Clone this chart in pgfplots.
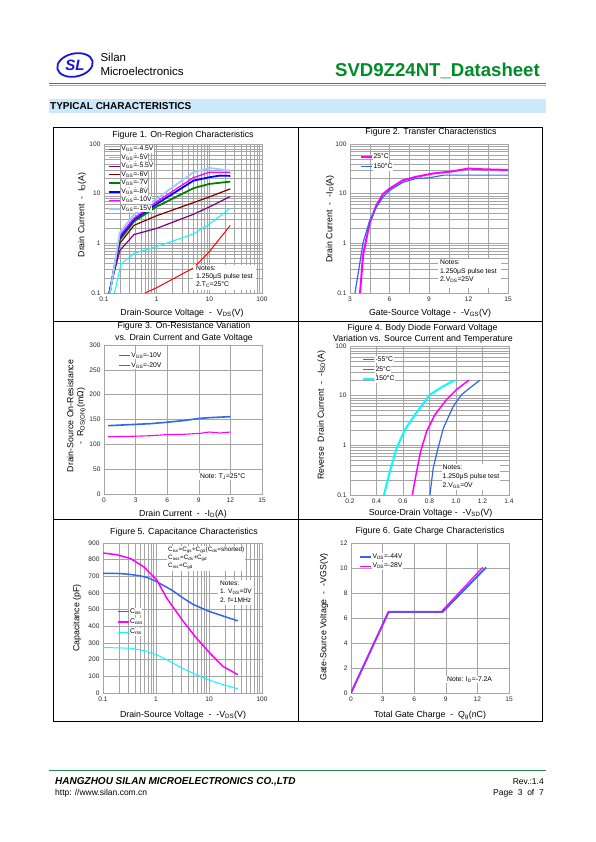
\documentclass[border=0pt]{standalone}
\usepackage{fontspec}
\setmainfont{Liberation Sans}
\usepackage{pgfplots}
\pgfplotsset{compat=1.18}
\newcommand\fs[1]{\fontsize{#1}{#1}\selectfont}
\definecolor{dsblue}{RGB}{51,102,238}
\definecolor{dsmag}{RGB}{255,0,255}
\definecolor{dscyan}{RGB}{0,255,255}
\definecolor{dsgreen}{RGB}{0,128,0}
\definecolor{dsmaroon}{RGB}{128,0,0}
\definecolor{dspurple}{RGB}{128,0,128}
\definecolor{dslblue}{RGB}{153,204,255}
\definecolor{hdgreen}{RGB}{0,140,40}
\definecolor{lineg1}{RGB}{40,140,80}
\definecolor{lineg2}{RGB}{120,195,140}
\definecolor{band}{RGB}{204,232,250}
\definecolor{logoblue}{RGB}{20,20,230}
\definecolor{gridc}{RGB}{165,165,165}
\pgfplotsset{
  legend image code/.code={\draw[#1] (0pt,0pt) -- (11pt,0pt);},
  ds/.style={
    scale only axis, anchor=south west, clip=true,
    axis line style={draw=gridc, line width=0.5pt},
    major grid style={draw=gridc, line width=0.45pt},
    minor grid style={draw=gridc, line width=0.45pt},
    major tick length=0pt, minor tick length=0pt,
    tick label style={font=\fs{6.6}, text=black!85},
    /pgf/number format/assume math mode=true,
    legend cell align=left,
    legend style={draw=none, fill=none, inner sep=0pt, outer sep=0pt, anchor=north west, font=\fs{6.8},
      nodes={inner sep=0.6pt, text height=4.8pt, text depth=1.4pt, fill=white}},
  },
}
\begin{document}
\begin{tikzpicture}[x=1pt,y=1pt]
\fill[white] (0,0) rectangle (595,-842);
\useasboundingbox (0,0) rectangle (595,-842);
% ---------- header ----------
\draw[logoblue, line width=1.8pt, rotate around={12:(75,-65)}] (75,-65) ellipse (18 and 11.5);
\node[logoblue, font=\fs{15}\bfseries\itshape] at (75,-65) {SL};
\node[anchor=west, font=\fs{11.5}] at (97,-57.5) {Silan};
\node[anchor=west, font=\fs{11.5}] at (97,-71.5) {Microelectronics};
\node[anchor=east, font=\fs{18.6}\bfseries, text=hdgreen, inner sep=0pt] at (540,-71) {SVD9Z24NT\_Datasheet};
\draw[lineg1, line width=1.4pt] (49,-83.5) -- (546,-83.5);
\draw[lineg2, line width=1pt] (49,-86) -- (546,-86);
\fill[band] (49,-99) rectangle (546,-113);
\node[anchor=west, font=\fs{10}\bfseries, inner sep=0pt] at (50,-106) {TYPICAL CHARACTERISTICS};
% ---------- frame ----------
\draw[line width=0.9pt] (53,-127) rectangle (542,-721);
\draw[line width=0.9pt] (298,-127) -- (298,-721);
\draw[line width=0.9pt] (53,-321) -- (542,-321);
\draw[line width=0.9pt] (53,-519) -- (542,-519);
% ---------- Figure 1 ----------
\begin{axis}[ds, at={(104pt,-293pt)}, width=158pt, height=149pt,
  xmode=log, ymode=log, xmin=0.1, xmax=100, ymin=0.1, ymax=100,
  xtick={0.1,1,10,100}, xticklabels={0.1,1,10,100},
  ytick={0.1,1,10,100}, yticklabels={0.1,1,10,100}, grid=both,
  legend style={at={(0.025,0.99)}, row sep=1.1pt}]
\addplot[red, line width=1pt] coordinates {(0.6,0.1)(1,0.128)(2,0.19)(5,0.32)(10,0.68)(25,2.3)};
\addlegendentry{V\textsubscript{GS}=-4.5V}
\addplot[dscyan, line width=1pt] coordinates {(0.158,0.1)(0.21,0.38)(0.37,0.63)(1,0.86)(5,1.55)(10,2.45)(25,5.1)};
\addlegendentry{V\textsubscript{GS}=-5V}
\addplot[dspurple, line width=1.2pt] coordinates {(0.124,0.1)(0.2,0.72)(0.37,1.5)(1,2.0)(5,3.85)(10,5.4)(25,8.8)};
\addlegendentry{V\textsubscript{GS}=-5.5V}
\addplot[dsmaroon, line width=1.2pt] coordinates {(0.125,0.1)(0.2,1.0)(0.37,2.3)(1,3.6)(5,6.6)(10,8.6)(25,12.5)};
\addlegendentry{V\textsubscript{GS}=-6V}
\addplot[dsgreen, line width=1.8pt] coordinates {(0.127,0.1)(0.2,1.18)(0.37,2.75)(1,5.5)(5,12.9)(10,15.7)(25,17.5)};
\addlegendentry{V\textsubscript{GS}=-7V}
\addplot[blue, line width=1.8pt] coordinates {(0.128,0.1)(0.2,1.3)(0.37,3.0)(1,6.2)(5,18.3)(10,21.4)(16,23.1)(25,22.8)};
\addlegendentry{V\textsubscript{GS}=-8V}
\addplot[dsmag, line width=1.3pt] coordinates {(0.13,0.1)(0.2,1.45)(0.37,3.2)(1,6.9)(5,21)(10,27)(25,27)};
\addlegendentry{V\textsubscript{GS}=-10V}
\addplot[dslblue, line width=1.8pt] coordinates {(0.13,0.1)(0.2,1.65)(0.37,3.75)(1,7.9)(5,27)(10,33)(25,29)};
\addlegendentry{V\textsubscript{GS}=-15V}
\end{axis}
\fill[white] (193,-265) rectangle (256,-290);
\node[anchor=north west, align=left, font=\fontsize{6.8}{8}\selectfont, inner sep=0pt] at (196,-265.5) {Notes:\\1.250μS pulse test\\2.T\textsubscript{C}=25°C};
\node[font=\fs{8.8}] at (183,-135) {Figure 1. On-Region Characteristics};
\node[font=\fs{8.8}] at (182,-313) {Drain-Source Voltage~~-~~V\textsubscript{DS}(V)};
\node[font=\fs{8.8}, rotate=90] at (82,-215) {Drain Current~~-~~I\textsubscript{D}(A)};
% ---------- Figure 2 ----------
\begin{axis}[ds, at={(350pt,-293pt)}, width=158pt, height=149pt,
  ymode=log, xmin=3, xmax=15, ymin=0.1, ymax=100,
  xtick={3,6,9,12,15}, minor xtick={4.5,7.5,10.5,13.5},
  ytick={0.1,1,10,100}, yticklabels={0.1,1,10,100}, grid=both,
  legend style={at={(0.063,0.94)}, row sep=2.8pt}]
\addplot[dsmag, line width=2pt] coordinates {(3.76,0.1)(4.0,0.6)(4.5,2.6)(5.0,5.8)(5.5,9.8)(6.0,12.6)(7.0,18.5)(8.0,21.8)(9.3,25.5)(10.6,27.7)(12,32)(13,31)(15,30)};
\addlegendentry{25°C}
\addplot[dsblue, line width=1.2pt] coordinates {(3.38,0.1)(4.0,1.05)(4.5,2.9)(5.0,5.3)(5.5,8.5)(6.0,11.6)(7.0,16.8)(8.0,20.2)(9.0,20.8)(10.1,23.6)(15,23.6)};
\addlegendentry{150°C}
\end{axis}
\fill[white] (438,-259) rectangle (501,-288);
\node[anchor=north west, align=left, font=\fontsize{6.8}{8.5}\selectfont, inner sep=0pt] at (440,-260) {Notes:\\1.250μS pulse test\\2.V\textsubscript{DS}=25V};
\node[font=\fs{8.8}] at (431,-132.5) {Figure 2. Transfer Characteristics};
\node[font=\fs{8.8}] at (430,-313) {Gate-Source Voltage~-~~-V\textsubscript{GS}(V)};
\node[font=\fs{8.8}, rotate=90] at (330,-219) {Drain Current~~-~~-I\textsubscript{D}(A)};
% ---------- Figure 3 ----------
\begin{axis}[ds, at={(104pt,-494pt)}, width=158pt, height=149pt,
  xmin=0, xmax=15, ymin=0, ymax=300,
  xtick={0,3,6,9,12,15}, ytick={0,50,100,150,200,250,300}, grid=major,
  legend style={at={(0.089,0.955)}, row sep=2.8pt}]
\addplot[dsblue, line width=1.6pt] coordinates {(0.4,137.6)(3.1,140.3)(4.4,141.6)(5.9,144.3)(7.5,147.7)(9.1,152.3)(10,153.7)(12,155.7)};
\addlegendentry{V\textsubscript{GS}=-10V}
\addplot[dsmag, line width=1.1pt] coordinates {(0.4,115.4)(3.1,116.4)(4.4,117.4)(5.9,119.5)(7.5,120.1)(9.1,122.1)(10,124.8)(11,122.8)(12,124.8)};
\addlegendentry{V\textsubscript{GS}=-20V}
\end{axis}
\node[anchor=west, font=\fs{6.8}, fill=white, inner sep=1pt] at (199,-476.5) {Note: T\textsubscript{J}=25°C};
\node[font=\fs{8.8}] at (184,-326.5) {Figure 3. On-Resistance Variation};
\node[font=\fs{8.8}] at (184,-338) {vs. Drain Current and Gate Voltage};
\node[font=\fs{8.8}] at (183,-514) {Drain Current~~-~~-I\textsubscript{D}(A)};
\node[font=\fs{8.8}, rotate=90, align=center] at (76.5,-416) {Drain-Source On-Resistance\\[1pt]-~~R\textsubscript{DS(ON)}(mΩ)};
% ---------- Figure 4 ----------
\begin{axis}[ds, at={(350pt,-495pt)}, width=159pt, height=149pt,
  ymode=log, xmin=0.2, xmax=1.4, ymin=0.1, ymax=100,
  xtick={0.2,0.4,0.6,0.8,1.0,1.2,1.4}, xticklabels={0.2,0.4,0.6,0.8,1.0,1.2,1.4},
  ytick={0.1,1,10,100}, yticklabels={0.1,1,10,100}, grid=both,
  legend style={at={(0.075,0.933)}, row sep=2.4pt}]
\addplot[dsblue, line width=1.2pt] coordinates {(0.803,0.1)(0.828,0.35)(0.858,0.75)(0.904,2.2)(0.979,6.1)(1.042,10.5)(1.1,14)(1.18,20.5)};
\addlegendentry{-55°C}
\addplot[dsmag, line width=1.5pt] coordinates {(0.67,0.1)(0.703,0.3)(0.733,0.75)(0.778,1.9)(0.841,4.15)(0.929,8.35)(1.004,13.3)(1.097,20.5)};
\addlegendentry{25°C}
\addplot[dscyan, line width=2pt] coordinates {(0.456,0.1)(0.501,0.3)(0.552,0.88)(0.614,2.07)(0.69,4.15)(0.803,10.5)(0.904,15.5)(0.99,20.5)};
\addlegendentry{150°C}
\end{axis}
\node[anchor=north west, align=left, font=\fontsize{6.8}{8.8}\selectfont, fill=white, inner sep=1pt] at (441.5,-464) {Notes:\\1.250μS pulse test\\2.V\textsubscript{GS}=0V};
\node[font=\fs{8.8}] at (422.5,-328) {Figure 4. Body Diode Forward Voltage};
\node[font=\fs{8.8}] at (423,-339) {Variation vs. Source Current and Temperature};
\node[font=\fs{8.8}] at (430.5,-513.5) {Source-Drain Voltage~-~~-V\textsubscript{SD}(V)};
\node[font=\fs{8.8}, rotate=90] at (321.5,-415) {Reverse~~Drain Current~~-~~-I\textsubscript{SD}(A)};
% ---------- Figure 5 ----------
\begin{axis}[ds, at={(103pt,-693pt)}, width=159pt, height=150pt,
  xmode=log, xmin=0.1, xmax=100, ymin=0, ymax=900,
  xtick={0.1,1,10,100}, xticklabels={0.1,1,10,100},
  ytick={0,100,200,300,400,500,600,700,800,900}, grid=both,
  legend style={at={(0.088,0.567)}, row sep=2.8pt}]
\addplot[dsblue, line width=1.5pt] coordinates {(0.1,718)(0.2,717)(0.3,713)(0.5,703)(0.7,692)(1,670)(2,617)(3.3,568)(5,532)(10,490)(20,458)(35,433)};
\addlegendentry{C\textsubscript{iss}}
\addplot[dsmag, line width=1.5pt] coordinates {(0.1,840)(0.18,830)(0.33,807)(0.59,757)(1.04,677)(1.6,568)(3.3,428)(5.8,329)(10.4,239)(18.5,159)(35,110)};
\addlegendentry{C\textsubscript{oss}}
\addplot[dscyan, line width=1pt] coordinates {(0.1,273)(0.33,269)(0.59,255)(1.04,229)(1.86,189)(3.3,145)(5.8,110)(10.4,76)(18.5,50)(35,26)};
\addlegendentry{C\textsubscript{rss}}
\end{axis}
\node[anchor=north west, align=left, font=\fontsize{6.3}{8}\selectfont, fill=white, inner sep=1pt] at (167,-546) {C\textsubscript{iss}=C\textsubscript{gs}+C\textsubscript{gd}(C\textsubscript{ds}=shorted)\\C\textsubscript{oss}=C\textsubscript{ds}+C\textsubscript{gd}\\C\textsubscript{rss}=C\textsubscript{gd}};
\fill[white] (218,-580) rectangle (254,-605);
\node[anchor=north west, align=left, font=\fontsize{6.6}{8.2}\selectfont, inner sep=0pt] at (220,-581) {Notes:\\1. V\textsubscript{GS}=0V\\2. f=1MHz};
\node[font=\fs{8.8}] at (184,-532) {Figure 5. Capacitance Characteristics};
\node[font=\fs{8.8}] at (183,-715) {Drain-Source Voltage~~-~~-V\textsubscript{DS}(V)};
\node[font=\fs{8.8}, rotate=90] at (77,-618) {Capacitance (pF)};
% ---------- Figure 6 ----------
\begin{axis}[ds, at={(351pt,-693pt)}, width=158pt, height=150pt,
  xmin=0, xmax=15, ymin=0, ymax=12,
  xtick={0,3,6,9,12,15}, ytick={0,2,4,6,8,10,12}, grid=major,
  legend style={at={(0.05,0.933)}, row sep=2pt}]
\addplot[dsblue, line width=2pt] coordinates {(0,0)(3.57,6.5)(8.71,6.5)(12.82,10.05)};
\addlegendentry{V\textsubscript{DS}=-44V}
\addplot[dsmag, line width=1.2pt] coordinates {(0,0)(3.57,6.5)(8.56,6.5)(12.5,10.05)};
\addlegendentry{V\textsubscript{DS}=-28V}
\end{axis}
\node[anchor=west, font=\fs{6.8}, fill=white, inner sep=1pt] at (446,-679.5) {Note: I\textsubscript{D}=-7.2A};
\node[font=\fs{8.8}] at (430,-531) {Figure 6. Gate Charge Characteristics};
\node[font=\fs{8.8}] at (430,-715) {Total Gate Charge~~-~~Q\textsubscript{g}(nC)};
\node[font=\fs{8.8}, rotate=90] at (324,-617) {Gate-Source Voltage~~-~~-VGS(V)};
% ---------- footer ----------
\draw[lineg1, line width=1pt] (49,-770) -- (546,-770);
\node[anchor=west, font=\fs{10}\bfseries\itshape, inner sep=0pt] at (55,-782) {HANGZHOU SILAN MICROELECTRONICS CO.,LTD};
\node[anchor=west, font=\fs{8.5}, inner sep=0pt] at (55,-793) {http: //www.silan.com.cn};
\node[anchor=east, font=\fs{8.5}, inner sep=0pt] at (544,-782) {Rev.:1.4};
\node[anchor=east, font=\fs{8.5}, inner sep=0pt] at (544,-793) {Page~~3~~of~~7};
\end{tikzpicture}
\end{document}
